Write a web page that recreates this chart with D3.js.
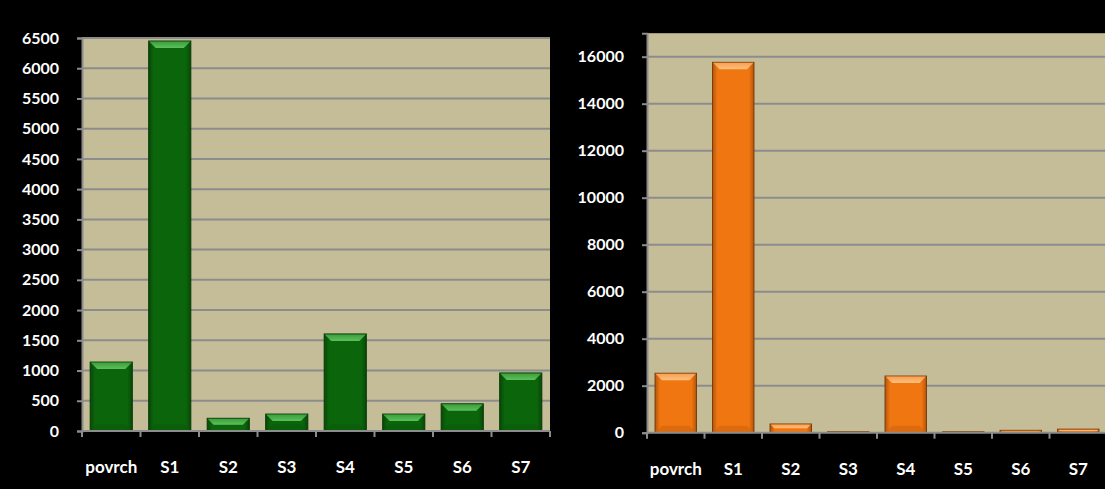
<!DOCTYPE html>
<html><head><meta charset="utf-8">
<script src="https://cdn.jsdelivr.net/npm/d3@7"></script>
<style>
html,body{margin:0;padding:0;background:#000;}
svg{display:block;}
text{font-family:Lato,"Open Sans",sans-serif;font-weight:bold;fill:#fff;}
</style></head>
<body>
<svg id="c" width="1105" height="489"></svg>
<script>
const categories = ["povrch","S1","S2","S3","S4","S5","S6","S7"];
const leftValues = [1140, 6450, 210, 280, 1605, 280, 450, 960];
const rightValues = [2530, 15760, 370, 40, 2410, 40, 100, 150];
const leftTicks = [0,500,1000,1500,2000,2500,3000,3500,4000,4500,5000,5500,6000,6500];
const rightTicks = [0,2000,4000,6000,8000,10000,12000,14000,16000];
const leftMax = 6500, rightMax = 17000;

const svg = d3.select("#c");
const defs = svg.append("defs");

function makeGrad(id, edge, mid){
  const g = defs.append("linearGradient").attr("id", id).attr("x1","0").attr("x2","1").attr("y1","0").attr("y2","0");
  g.append("stop").attr("offset","0").attr("stop-color", edge);
  g.append("stop").attr("offset","0.12").attr("stop-color", mid);
  g.append("stop").attr("offset","0.88").attr("stop-color", mid);
  g.append("stop").attr("offset","1").attr("stop-color", edge);
}
makeGrad("gG", "#084808", "#0b660b");
makeGrad("gO", "#b5560a", "#f07612");
function makeTop(id, c1, c2){
  const g = defs.append("linearGradient").attr("id", id).attr("x1","0").attr("x2","0").attr("y1","0").attr("y2","1");
  g.append("stop").attr("offset","0").attr("stop-color", c1);
  g.append("stop").attr("offset","1").attr("stop-color", c2);
}
makeTop("tG", "#3c9e3c", "#5cc05c");
makeTop("tO", "#f8a050", "#fcc080");

function chart(cfg){
  const {x0, x1, yTop, yZero, max, values, ticks, fill, top, bottomCol, stroke} = cfg;
  const g = svg.append("g");
  const x = d3.scaleBand().domain(categories).range([x0, x1]).paddingInner(0.28).paddingOuter(0.14);
  const y = d3.scaleLinear().domain([0, max]).range([yZero, yTop]);
  g.append("rect").attr("x", x0).attr("y", y(max)).attr("width", x1 - x0).attr("height", yZero - y(max)).attr("fill", "#c5bd98");
  g.selectAll(".grid").data(ticks.filter(t => t > 0)).join("line")
    .attr("x1", x0).attr("x2", x1).attr("y1", d => y(d)).attr("y2", d => y(d))
    .attr("stroke", "#8c8c8c").attr("stroke-width", 2);
  const ya = d3.axisLeft(y).tickValues(ticks).tickSize(5).tickPadding(18).tickFormat(d3.format("d"));
  const yg = g.append("g").attr("transform", `translate(${x0},0)`).call(ya);
  yg.attr("font-size", null).attr("font-family", null);
  yg.select(".domain").attr("stroke", "#8c8c8c").attr("stroke-width", 2);
  yg.selectAll(".tick line").attr("stroke", "#8c8c8c").attr("stroke-width", 2);
  yg.selectAll(".tick text").attr("fill", "#fff").style("font-size", "16px").style("font-family", "Lato, sans-serif").style("font-weight", "bold");
  const bars = g.selectAll(".bar").data(categories.map((c, i) => ({c, v: values[i]}))).join("g");
  bars.each(function(d){
    const b = d3.select(this);
    const bx = x(d.c), bw = x.bandwidth(), by = y(d.v), bh = yZero - y(d.v);
    if (bh <= 0) return;
    b.append("rect").attr("x", bx).attr("y", by).attr("width", bw).attr("height", bh)
      .attr("fill", fill).attr("stroke", stroke).attr("stroke-width", 1);
    const bev = Math.min(7, bh / 2);
    b.append("path").attr("d", `M${bx+0.5},${by+0.5}L${bx+bw-0.5},${by+0.5}L${bx+bw-bev},${by+bev}L${bx+bev},${by+bev}Z`).attr("fill", top);
    if (bh > 14){
      b.append("path").attr("d", `M${bx+0.5},${yZero-0.5}L${bx+bw-0.5},${yZero-0.5}L${bx+bw-bev},${yZero-bev}L${bx+bev},${yZero-bev}Z`).attr("fill", bottomCol).attr("opacity", 0.6);
    }
  });
  g.append("line").attr("x1", x0).attr("x2", x1).attr("y1", yZero).attr("y2", yZero).attr("stroke", "#8c8c8c").attr("stroke-width", 2);
  const step = x.step();
  const bounds = categories.map(c => x(c) - step * x.paddingInner() / 2).concat([x1]);
  bounds[0] = x0;
  g.selectAll(".xt").data(bounds).join("line")
    .attr("x1", d => d).attr("x2", d => d).attr("y1", yZero).attr("y2", yZero + 6)
    .attr("stroke", "#8c8c8c").attr("stroke-width", 2);
  g.selectAll(".xl").data(categories).join("text")
    .attr("x", d => x(d) + x.bandwidth() / 2).attr("y", yZero + 42)
    .attr("text-anchor", "middle").style("font-size", "17px").text(d => d);
}

chart({x0: 82, x1: 550, yTop: 38, yZero: 431, max: leftMax, values: leftValues, ticks: leftTicks,
  fill: "url(#gG)", top: "url(#tG)", bottomCol: "#0a5a0a", stroke: "#053a05"});
chart({x0: 647, x1: 1107, yTop: 33.2, yZero: 432.7, max: rightMax, values: rightValues, ticks: rightTicks,
  fill: "url(#gO)", top: "url(#tO)", bottomCol: "#d0640c", stroke: "#7a3a06"});
</script>
</body></html>
